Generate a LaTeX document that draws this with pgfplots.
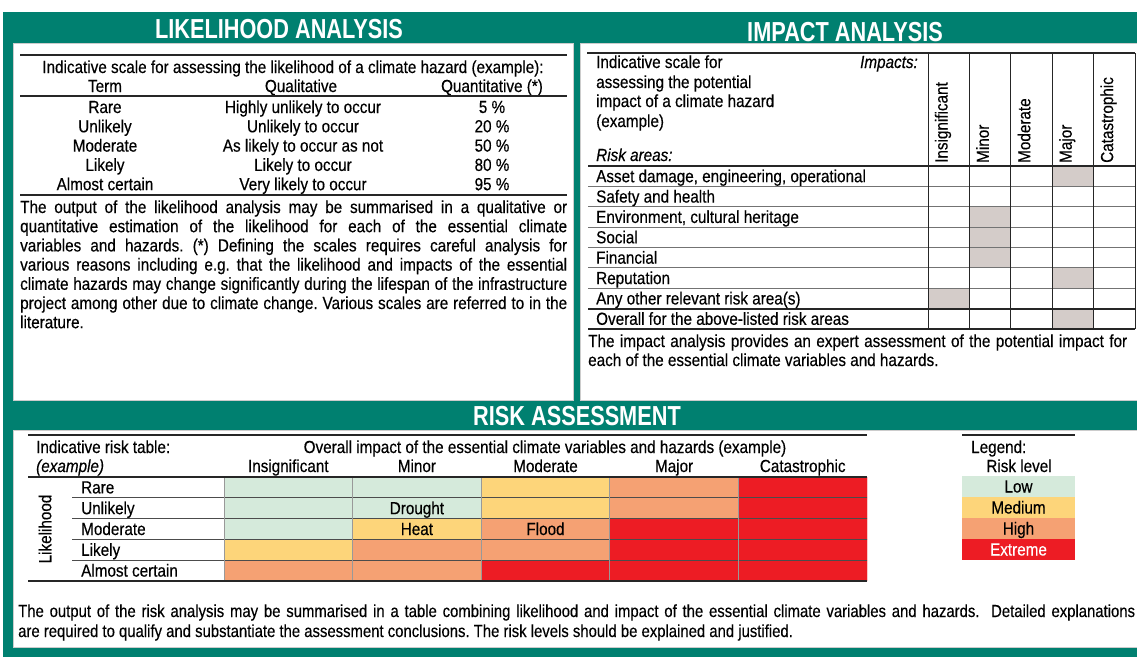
\documentclass[border=0pt]{standalone}
\usepackage{pgfplots}
\pgfplotsset{compat=1.18}
\usepackage{pgfplotstable}
\usepackage{fontspec}
\setmainfont{Liberation Sans}[FakeStretch=0.872,FakeBold=0.35]
\newfontfamily\titlefont{Liberation Sans}[FakeStretch=0.79]
\newfontfamily\narrowfont{Liberation Sans}[FakeStretch=0.85,FakeBold=0.3]
\definecolor{tealc}{RGB}{0,128,112}
\definecolor{lowc}{RGB}{213,234,219}
\definecolor{medc}{RGB}{253,213,122}
\definecolor{highc}{RGB}{245,161,115}
\definecolor{extc}{RGB}{237,28,36}
\definecolor{cellgray}{RGB}{212,204,201}

% risk level: 0 low, 1 medium, 2 high, 3 extreme; row 0 = Rare ... 4 = Almost certain
\pgfplotstableread{
col row c
0 0 0
1 0 0
2 0 1
3 0 2
4 0 3
0 1 0
1 1 0
2 1 1
3 1 2
4 1 3
0 2 0
1 2 1
2 2 2
3 2 3
4 2 3
0 3 1
1 3 2
2 3 2
3 3 3
4 3 3
0 4 2
1 4 2
2 4 3
3 4 3
4 4 3
}\risktable

% impact marks: 1 = marked cell
\pgfplotstableread{
col row c
0 0 0
1 0 0
2 0 0
3 0 1
4 0 0
0 1 0
1 1 0
2 1 0
3 1 0
4 1 0
0 2 0
1 2 1
2 2 0
3 2 0
4 2 0
0 3 0
1 3 1
2 3 0
3 3 0
4 3 0
0 4 0
1 4 1
2 4 0
3 4 0
4 4 0
0 5 0
1 5 0
2 5 0
3 5 1
4 5 0
0 6 1
1 6 0
2 6 0
3 6 0
4 6 0
0 7 0
1 7 0
2 7 0
3 7 1
4 7 0
}\impacttable

\begin{document}
\frenchspacing
\begin{tikzpicture}[x=1pt,y=1pt,font=\fontsize{17.5}{19}\selectfont,every node/.style={inner sep=0pt}]
\useasboundingbox (0,0) rectangle (1137,-657);
\fill[white] (0,0) rectangle (1137,-657);
\fill[tealc] (3,-12) rectangle (1137,-657);
\fill[white,draw=gray!40] (13,-43) rectangle (573,-400);
\fill[white,draw=gray!40] (580,-43) rectangle (1137,-400);
\fill[white,draw=gray!40] (13,-430) rectangle (1137,-647);

% titles
\node[white,font=\titlefont\bfseries\fontsize{27.5}{27.5}\selectfont] at (279,-29) {LIKELIHOOD ANALYSIS};
\node[white,font=\titlefont\bfseries\fontsize{27.5}{27.5}\selectfont] at (845,-32) {IMPACT ANALYSIS};
\node[white,font=\titlefont\bfseries\fontsize{27.5}{27.5}\selectfont] at (577,-416) {RISK ASSESSMENT};

% ---------- likelihood analysis ----------
\draw[line width=2.4pt,black!85] (20,-55) -- (567,-55);
\node[anchor=base] at (293,-73) {Indicative scale for assessing the likelihood of a climate hazard (example):};
\node[anchor=base] at (105,-92) {Term};
\node[anchor=base] at (301,-92) {Qualitative};
\node[anchor=base] at (492,-92) {Quantitative (*)};
\draw[line width=2.4pt,black!85] (20,-96) -- (567,-96);
\foreach \t/\q/\p [count=\i from 0] in {Rare/Highly unlikely to occur/5 \%,Unlikely/Unlikely to occur/20 \%,Moderate/As likely to occur as not/50 \%,Likely/Likely to occur/80 \%,Almost certain/Very likely to occur/95 \%}{
  \node[anchor=base] at (105,{-113-19.3*\i}) {\t};
  \node[anchor=base] at (303,{-113-19.3*\i}) {\q};
  \node[anchor=base] at (492,{-113-19.3*\i}) {\p};
}
\draw[line width=2.4pt,black!85] (20,-195) -- (567,-195);
\node[anchor=base west] at (20,-213) {\makebox[547pt][s]{The output of the likelihood analysis may be summarised in a qualitative or}};
\node[anchor=base west] at (20,-232.2) {\makebox[547pt][s]{quantitative estimation of the likelihood for each of the essential climate}};
\node[anchor=base west] at (20,-251.4) {\makebox[547pt][s]{variables and hazards. (*) Defining the scales requires careful analysis for}};
\node[anchor=base west] at (20,-270.6) {\makebox[547pt][s]{various reasons including e.g. that the likelihood and impacts of the essential}};
\node[anchor=base west] at (20,-289.8) {\makebox[547pt][s]{climate hazards may change significantly during the lifespan of the infrastructure}};
\node[anchor=base west] at (20,-309) {\makebox[547pt][s]{project among other due to climate change. Various scales are referred to in the}};
\node[anchor=base west] at (20,-328.2) {literature.};

% ---------- impact analysis ----------
\begin{axis}[at={(928pt,-166pt)},anchor=north west,scale only axis,width=207pt,height=163pt,
  xmin=-0.5,xmax=4.5,ymin=-0.5,ymax=7.5,y dir=reverse,hide axis,
  colormap={imp}{rgb255=(255,255,255) rgb255=(212,204,201)},colormap access=direct]
\addplot[matrix plot*,mesh/cols=5,point meta=explicit] table[x=col,y=row,meta=c]{\impacttable};
\end{axis}
\draw[line width=2.4pt,black!85] (587,-53) -- (1135,-53);
\node[anchor=base west] at (596,-68) {Indicative scale for};
\node[anchor=base west] at (596,-88) {assessing the potential};
\node[anchor=base west] at (596,-107) {impact of a climate hazard};
\node[anchor=base west] at (596,-127) {(example)};
\node[anchor=base west] at (596,-161) {\itshape Risk areas:};
\node[anchor=base east] at (918,-68) {\itshape Impacts:};
\foreach \lab [count=\i from 0] in {Insignificant,Minor,Moderate,Major,Catastrophic}
  \node[rotate=90,anchor=base west] at ({928+41.4*\i+19.5},-163) {\lab};
\foreach \k in {1,...,6}
  \draw[black!55,line width=0.9pt] (588,{-166-20.375*\k}) -- (1135,{-166-20.375*\k});
\draw[line width=2pt,black!85] (588,-166) -- (1135,-166);
\draw[line width=2pt,black!85] (588,-308.6) -- (1135,-308.6);
\draw[line width=1.2pt,black!85] (588,-329) -- (1135,-329);
\foreach \x in {928,969.4,1010.8,1052.2,1093.6,1135}
  \draw[line width=1pt,black!85] (\x,-53) -- (\x,-329);
\foreach \lab [count=\i from 0] in {{Asset damage, engineering, operational},Safety and health,{Environment, cultural heritage},Social,Financial,Reputation,Any other relevant risk area(s),Overall for the above-listed risk areas}
  \node[anchor=base west] at (596,{-166-20.375*(\i+0.5)-6}) {\lab};
\node[anchor=base west] at (588,-347) {\makebox[539pt][s]{The impact analysis provides an expert assessment of the potential impact for}};
\node[anchor=base west] at (588,-366) {each of the essential climate variables and hazards.};

% ---------- risk assessment ----------
\begin{axis}[at={(224pt,-477pt)},anchor=north west,scale only axis,width=643pt,height=104pt,
  xmin=-0.5,xmax=4.5,ymin=-0.5,ymax=4.5,y dir=reverse,hide axis,
  colormap={risk}{rgb255=(213,234,219) rgb255=(253,213,122) rgb255=(245,161,115) rgb255=(237,28,36)},
  colormap access=direct]
\addplot[matrix plot*,mesh/cols=5,point meta=explicit] table[x=col,y=row,meta=c]{\risktable};
\node[anchor=base,yshift=-6pt] at (axis cs:1,1) {Drought};
\node[anchor=base,yshift=-6pt] at (axis cs:1,2) {Heat};
\node[anchor=base,yshift=-6pt] at (axis cs:2,2) {Flood};
\end{axis}
\draw[line width=2.4pt,black!85] (28,-435) -- (867,-435);
\node[anchor=base west] at (36,-453) {Indicative risk table:};
\node[anchor=base west] at (36,-472) {\itshape (example)};
\node[anchor=base] at (545,-453) {Overall impact of the essential climate variables and hazards (example)};
\foreach \lab [count=\i from 0] in {Insignificant,Minor,Moderate,Major,Catastrophic}
  \node[anchor=base] at ({224+128.6*(\i+0.5)},-472) {\lab};
\foreach \k in {1,...,4}
  \draw[black!70,line width=0.9pt] (72,{-477-20.8*\k}) -- (867,{-477-20.8*\k});
\foreach \k in {0,...,4}
  \draw[black!40,line width=0.8pt] ({224+128.6*\k},-477) -- ({224+128.6*\k},-581);
\draw[line width=2.4pt,black!85] (28,-477) -- (867,-477);
\draw[line width=2.4pt,black!85] (28,-581) -- (867,-581);
\foreach \lab [count=\i from 0] in {Rare,Unlikely,Moderate,Likely,Almost certain}
  \node[anchor=base west] at (81,{-477-20.8*(\i+0.5)-6}) {\lab};
\node[rotate=90] at (45,-529) {Likelihood};

% legend
\draw[line width=2.4pt,black!85] (962,-435) -- (1075,-435);
\node[anchor=base west] at (971,-453) {Legend:};
\node[anchor=base] at (1019,-472) {Risk level};
\foreach \c/\lab/\tc [count=\i from 0] in {lowc/Low/black,medc/Medium/black,highc/High/black,extc/Extreme/white}{
  \fill[\c] (962,{-476-21*\i}) rectangle (1075,{-476-21*(\i+1)});
  \node[anchor=base,text=\tc] at (1018.5,{-476-21*(\i+0.5)-6}) {\lab};
}

% bottom text
\node[anchor=base west,font=\narrowfont\fontsize{17.5}{19}\selectfont] at (18,-617) {\makebox[1117pt][s]{The output of the risk analysis may be summarised in a table combining likelihood and impact of the essential climate variables and hazards.\ \ Detailed explanations}};
\node[anchor=base west,font=\narrowfont\fontsize{17.5}{19}\selectfont] at (18,-637) {are required to qualify and substantiate the assessment conclusions. The risk levels should be explained and justified.};
\end{tikzpicture}
\end{document}
